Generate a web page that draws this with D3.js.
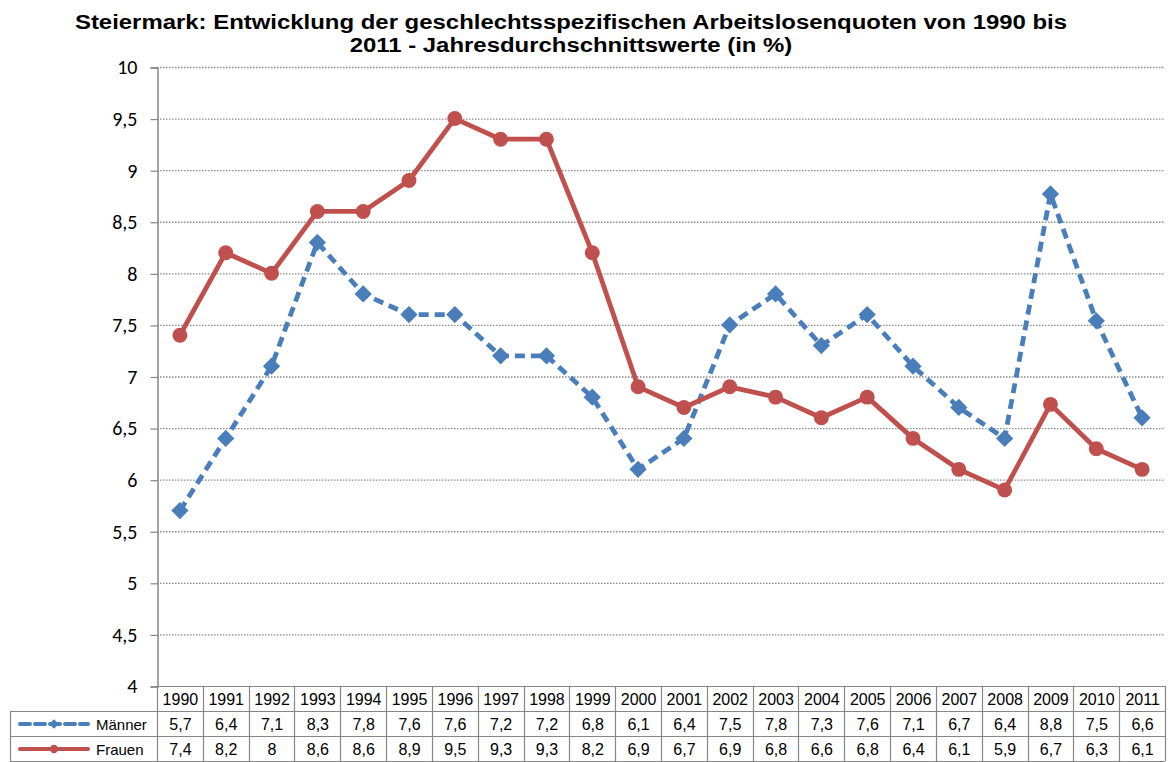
<!DOCTYPE html>
<meta charset="utf-8">
<html>
<head>
  <script src="https://d3js.org/d3.v7.min.js"></script>
  <style>
    body { margin: 0; background: #fff; }
    svg { display: block; }
  </style>
</head>
<body>
  <svg></svg>
  <script type="text/javascript">
    // data
    var years = ['1990','1991','1992','1993','1994','1995','1996','1997','1998','1999','2000',
                 '2001','2002','2003','2004','2005','2006','2007','2008','2009','2010','2011']
    var maenner = [5.7, 6.4, 7.1, 8.3, 7.8, 7.6, 7.6, 7.2, 7.2, 6.8, 6.1,
                   6.4, 7.5, 7.8, 7.3, 7.6, 7.1, 6.7, 6.4, 8.77, 7.54, 6.6]
    var frauen = [7.4, 8.2, 8, 8.6, 8.6, 8.9, 9.5, 9.3, 9.3, 8.2, 6.9,
                  6.7, 6.9, 6.8, 6.6, 6.8, 6.4, 6.1, 5.9, 6.73, 6.3, 6.1]
    var yTicks = [4, 4.5, 5, 5.5, 6, 6.5, 7, 7.5, 8, 8.5, 9, 9.5, 10]
    var titleLines = ['Steiermark: Entwicklung der geschlechtsspezifischen Arbeitslosenquoten von 1990 bis',
                      '2011 - Jahresdurchschnittswerte (in %)']

    var width = 1170, height = 762
    var plotLeft = 157, plotRight = 1165, plotTop = 67, plotBottom = 686
    var rowH = 25
    var legendLeft = 10

    var svg = d3.select('svg').attr('width', width).attr('height', height)

    var x = d3.scaleBand().domain(years).range([plotLeft, plotRight])
    var y = d3.scaleLinear().domain([4, 10]).range([plotBottom, plotTop])

    // German decimal format, no trailing zero
    function fmt(v) {
      return String(Math.round(v * 10) / 10).replace('.', ',')
    }

    // title (the original is a bit wider than tall, so stretch it)
    svg.append('g')
      .attr('transform', 'translate(571,0) scale(1.14,1)')
      .selectAll('text')
      .data(titleLines)
      .enter().append('text')
      .attr('x', 0)
      .attr('y', function (d, i) { return 29 + i * 23 })
      .attr('text-anchor', 'middle')
      .attr('font-family', 'Liberation Sans, Arial, sans-serif')
      .attr('font-weight', 'bold')
      .attr('font-size', 21)
      .text(function (d) { return d })

    // gridlines
    svg.append('g').selectAll('line')
      .data(yTicks.filter(function (t) { return t > 4 }))
      .enter().append('line')
      .attr('x1', plotLeft).attr('x2', plotRight)
      .attr('y1', function (d) { return y(d) + 0.5 })
      .attr('y2', function (d) { return y(d) + 0.5 })
      .attr('stroke', '#8c8c8c')
      .attr('stroke-width', 1.3)
      .attr('stroke-dasharray', '1.5,1.5')

    // y axis
    var yAxis = d3.axisLeft(y)
      .tickValues(yTicks)
      .tickSize(7)
      .tickFormat(fmt)
    var ya = svg.append('g')
      .attr('transform', 'translate(' + (plotLeft + 0.5) + ',0.5)')
      .call(yAxis)
    ya.select('.domain').attr('stroke', '#868686').attr('stroke-width', 1.5)
    ya.selectAll('.tick line').attr('stroke', '#868686').attr('stroke-width', 1.2)
    ya.selectAll('.tick text')
      .attr('x', -20)
      .attr('font-family', 'Carlito, Open Sans, sans-serif')
      .attr('font-size', 20)
      .attr('fill', '#000')

    // data table
    var tbl = svg.append('g').attr('transform', 'translate(0,' + plotBottom + ')')
    var tblStroke = '#868686'
    tbl.append('line').attr('x1', plotLeft).attr('x2', plotRight).attr('y1', 0.5).attr('y2', 0.5)
      .attr('stroke', tblStroke).attr('stroke-width', 1.2)
    ;[1, 2, 3].forEach(function (r) {
      tbl.append('line').attr('x1', legendLeft).attr('x2', plotRight)
        .attr('y1', r * rowH + 0.5).attr('y2', r * rowH + 0.5)
        .attr('stroke', tblStroke).attr('stroke-width', 1.2)
    })
    var cols = years.map(function (d) { return x(d) }).concat([plotRight])
    tbl.selectAll('line.v')
      .data(cols)
      .enter().append('line')
      .attr('class', 'v')
      .attr('x1', function (d) { return Math.round(d) + 0.5 })
      .attr('x2', function (d) { return Math.round(d) + 0.5 })
      .attr('y1', 0).attr('y2', 3 * rowH)
      .attr('stroke', tblStroke).attr('stroke-width', 1.2)
    tbl.append('line').attr('x1', legendLeft + 0.5).attr('x2', legendLeft + 0.5)
      .attr('y1', rowH).attr('y2', 3 * rowH)
      .attr('stroke', tblStroke).attr('stroke-width', 1.2)

    var rows = [
      { vals: years, fmt: function (d) { return d } },
      { vals: maenner, fmt: fmt },
      { vals: frauen, fmt: fmt }
    ]
    rows.forEach(function (row, r) {
      tbl.append('g').selectAll('text')
        .data(row.vals)
        .enter().append('text')
        .attr('x', function (d, i) { return x(years[i]) + x.bandwidth() / 2 + 0.5 })
        .attr('y', r * rowH + 19)
        .attr('text-anchor', 'middle')
        .attr('font-family', 'Liberation Sans, Arial, sans-serif')
        .attr('font-size', 16)
        .text(row.fmt)
    })

    // series
    var series = [
      { name: 'Männer', vals: maenner, color: '#4A7EBB', dash: '10,6', marker: 'diamond' },
      { name: 'Frauen', vals: frauen, color: '#C0504D', dash: null, marker: 'circle' }
    ]

    var line = d3.line()
      .x(function (d, i) { return x(years[i]) + x.bandwidth() / 2 })
      .y(function (d) { return y(d) })

    series.forEach(function (s) {
      svg.append('path')
        .datum(s.vals)
        .attr('d', line)
        .attr('fill', 'none')
        .attr('stroke', s.color)
        .attr('stroke-width', 4.8)
        .attr('stroke-linejoin', 'round')
        .attr('stroke-linecap', s.dash ? 'butt' : 'round')
        .attr('stroke-dasharray', s.dash)

      var sym = d3.symbol()
        .type(s.marker === 'diamond' ? d3.symbolDiamond2 : d3.symbolCircle)
        .size(s.marker === 'diamond' ? 190 : 175)
      svg.append('g').selectAll('path')
        .data(s.vals)
        .enter().append('path')
        .attr('d', sym)
        .attr('transform', function (d, i) {
          return 'translate(' + (x(years[i]) + x.bandwidth() / 2) + ',' + y(d) + ')'
        })
        .attr('fill', s.color)
    })

    // legend keys inside the table
    series.forEach(function (s, k) {
      var cy = plotBottom + (k + 1) * rowH + rowH / 2 + 0.5
      var g = svg.append('g')
      g.append('line')
        .attr('x1', 20).attr('x2', 88)
        .attr('y1', cy).attr('y2', cy)
        .attr('stroke', s.color)
        .attr('stroke-width', 4)
        .attr('stroke-dasharray', s.dash ? '10,5' : null)
        .attr('stroke-linecap', 'round')
      g.append('path')
        .attr('d', d3.symbol()
          .type(s.marker === 'diamond' ? d3.symbolDiamond2 : d3.symbolCircle)
          .size(s.marker === 'diamond' ? 60 : 55))
        .attr('transform', 'translate(54,' + cy + ')')
        .attr('fill', s.color)
      g.append('text')
        .attr('x', 96)
        .attr('y', cy + 6)
        .attr('font-family', 'Liberation Sans, Arial, sans-serif')
        .attr('font-size', 15)
        .text(s.name)
    })
  </script>
</body>
</html>
